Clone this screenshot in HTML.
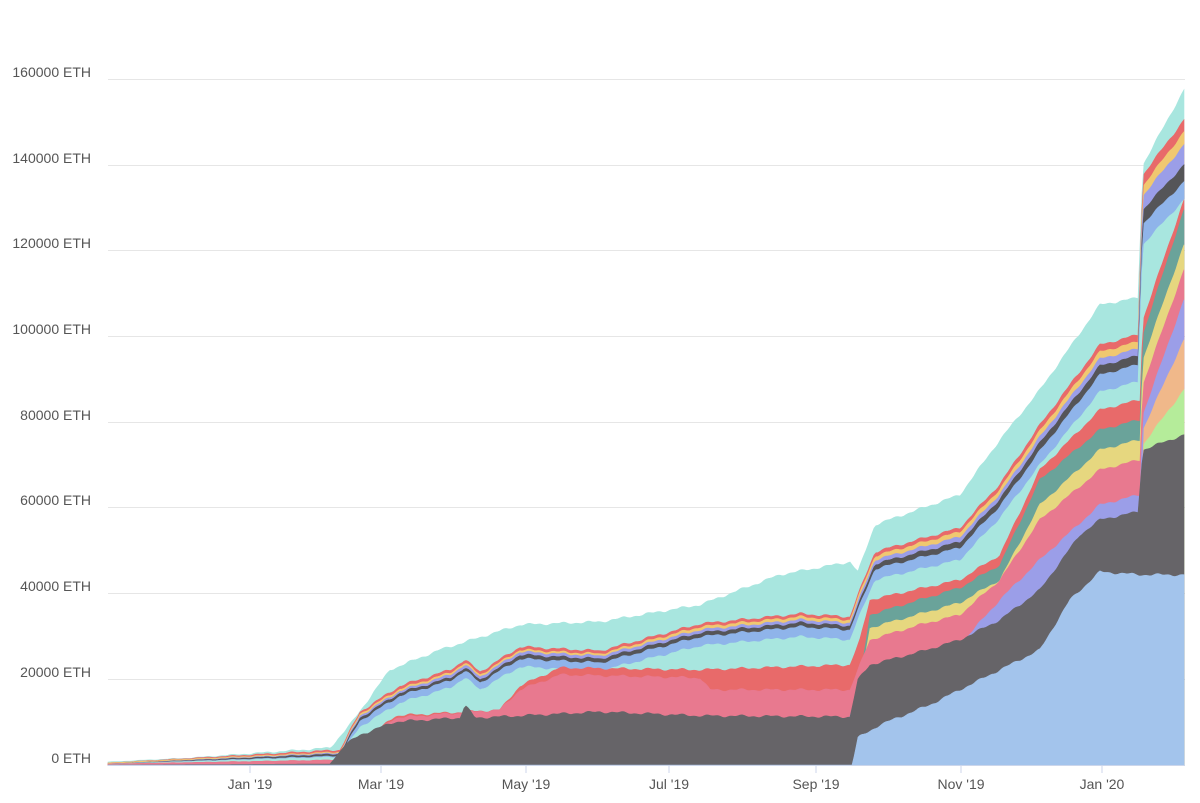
<!DOCTYPE html>
<html><head><meta charset="utf-8"><style>
body{margin:0;background:#fff;width:1200px;height:798px;overflow:hidden;font-family:"Liberation Sans",sans-serif}
svg text{font-family:"Liberation Sans",sans-serif;font-size:14px;fill:#555}
</style></head><body>
<svg id="s" width="1200" height="798" xmlns="http://www.w3.org/2000/svg">
<g stroke="#e6e6e6" stroke-width="1">
<line x1="108" x2="1185" y1="79.5" y2="79.5"/><line x1="108" x2="1185" y1="165.5" y2="165.5"/>
<line x1="108" x2="1185" y1="250.5" y2="250.5"/><line x1="108" x2="1185" y1="336.5" y2="336.5"/>
<line x1="108" x2="1185" y1="422.5" y2="422.5"/><line x1="108" x2="1185" y1="507.5" y2="507.5"/>
<line x1="108" x2="1185" y1="593.5" y2="593.5"/><line x1="108" x2="1185" y1="679.5" y2="679.5"/>
</g>
<g text-anchor="end">
<text x="91" y="77">160000 ETH</text><text x="91" y="163">140000 ETH</text>
<text x="91" y="248">120000 ETH</text><text x="91" y="334">100000 ETH</text>
<text x="91" y="420">80000 ETH</text><text x="91" y="505">60000 ETH</text>
<text x="91" y="591">40000 ETH</text><text x="91" y="677">20000 ETH</text>
<text x="91" y="763">0 ETH</text>
</g>
<g id="areas"></g>
<line x1="108" x2="1185" y1="765.5" y2="765.5" stroke="#ccd6eb"/>
<g stroke="#ccd6eb"><line x1="250" x2="250" y1="765" y2="773"/><line x1="381" x2="381" y1="765" y2="773"/><line x1="526" x2="526" y1="765" y2="773"/><line x1="669" x2="669" y1="765" y2="773"/><line x1="816" x2="816" y1="765" y2="773"/><line x1="961" x2="961" y1="765" y2="773"/><line x1="1102" x2="1102" y1="765" y2="773"/></g>
<g text-anchor="middle">
<text x="250" y="789">Jan '19</text><text x="381" y="789">Mar '19</text><text x="526" y="789">May '19</text>
<text x="669" y="789">Jul '19</text><text x="816" y="789">Sep '19</text><text x="961" y="789">Nov '19</text><text x="1102" y="789">Jan '20</text>
</g>
</svg>
<script>
const B=765;
function interp(pts,x){if(x<=pts[0][0])return pts[0][1];for(let i=1;i<pts.length;i++){if(x<=pts[i][0]){const[a,b]=pts[i-1],[c,d]=pts[i];return b+(d-b)*(x-a)/(c-a);}}return pts[pts.length-1][1];}
function wig(x,amp){return amp*(Math.sin(x*0.21)*0.6+Math.sin(x*0.53+1)*0.4);}
const L=[
 ["#a8e6df",[[108,762],[190,758],[330,748],[350,725],[390,670],[440,650],[520,625],[600,622],[700,605],[780,575],[850,562],[858,572],[875,525],[960,495],[1000,440],[1040,390],[1100,305],[1138,298],[1143,165],[1184,90]],2.5],
 ["#e86a6a",[[108,763],[340,750],[360,712],[400,686],[450,670],[465,660],[480,672],[520,647],[600,651],[700,624],[800,614],[850,617],[858,595],[875,552],[960,528],[1000,484],[1040,425],[1100,345],[1138,335],[1143,175],[1184,120]],1.5],
 ["#f0c870",[[108,763],[340,752],[360,714],[400,689],[450,673],[465,663],[480,675],[520,650],[600,654],[700,627],[800,617],[850,620],[858,598],[875,556],[960,532],[1000,489],[1040,431],[1100,352],[1138,342],[1143,186],[1184,132]],1.5],
 ["#9b9ee8",[[108,764],[340,753],[360,716],[400,691],[450,675],[465,665],[480,677],[520,652],[600,656],[700,630],[800,620],[850,623],[858,602],[875,560],[960,537],[1000,494],[1040,437],[1100,359],[1138,349],[1143,196],[1184,145]],1.5],
 ["#555558",[[108,764],[340,754],[360,718],[400,693],[450,678],[465,668],[480,680],[520,655],[600,659],[700,633],[800,623],[850,626],[858,606],[875,564],[960,542],[1000,499],[1040,443],[1100,366],[1138,356],[1143,210],[1184,165]],1.5],
 ["#8fb4ea",[[108,764],[340,756],[360,721],[400,696],[450,681],[465,671],[480,683],[520,659],[600,663],[700,637],[800,627],[850,630],[858,610],[875,569],[960,548],[1000,506],[1040,451],[1100,375],[1138,365],[1143,224],[1184,182]],1.5],
 ["#a8e6df",[[108,764],[340,757],[360,727],[400,703],[450,688],[465,678],[480,690],[520,667],[600,671],[700,646],[800,637],[850,640],[858,620],[875,580],[960,560],[1000,518],[1040,465],[1100,392],[1138,382],[1143,245],[1184,200]],1.5],
 ["#e86a6a",[[108,764],[340,760],[360,745],[395,716],[500,710],[520,686],[560,668],[700,670],[850,665],[860,640],[870,600],[960,580],[1000,555],[1040,470],[1100,410],[1140,400],[1143,320],[1184,200]],1.5],
 ["#6aa39a",[[108,766],[845,766],[850,712],[860,680],[870,615],[960,588],[1000,565],[1040,480],[1100,430],[1140,420],[1143,335],[1184,210]],1.5],
 ["#e6d77f",[[108,766],[845,766],[850,714],[860,685],[870,628],[960,603],[1000,580],[1040,505],[1100,450],[1140,440],[1143,360],[1184,245]],1.5],
 ["#e8798f",[[108,764],[340,760],[395,718],[500,710],[520,690],[560,675],[700,678],[710,690],[850,690],[860,665],[870,640],[920,625],[960,615],[1000,580],[1040,520],[1100,470],[1140,460],[1143,385],[1184,270]],1.5],
 ["#9b9ee8",[[108,766],[845,766],[850,716],[860,682],[870,668],[960,645],[1000,600],[1040,560],[1100,505],[1140,495],[1143,415],[1184,300]],1.5],
 ["#f0b88a",[[108,766],[1137,766],[1143,430],[1184,340]],1],
 ["#b5ec9a",[[108,766],[1137,766],[1143,445],[1184,390]],1],
 ["#666468",[[108,765],[330,764],[345,745],[360,735],[395,722],[460,718],[465,705],[475,718],[520,716],[600,712],[700,716],[850,717],[858,680],[870,665],[920,652],[960,640],[1000,620],[1040,590],[1080,535],[1100,520],[1138,512],[1143,450],[1184,435]],1.5],
 ["#a3c4ec",[[108,766],[852,766],[858,738],[880,725],[930,705],[960,690],[1000,670],[1040,650],[1070,600],[1100,572],[1140,575],[1184,575]],0.8]
];
let g=document.getElementById('areas'),html='';
L.forEach((l,i)=>{let d='M108,'+B;for(let x=108;x<=1184;x+=2){let y=interp(l[1],x);if(y<764)y+=wig(x,1.5*Math.min(1,(B-y)/20));if(y>B)y=B;d+=' L'+x+','+y.toFixed(1);}d+=' L1184,'+B+' Z';
html+='<path d="'+d+'" fill="'+l[0]+'" stroke="'+l[0]+'" stroke-width="0.6"/>';});
g.innerHTML=html;
</script>
</body></html>
